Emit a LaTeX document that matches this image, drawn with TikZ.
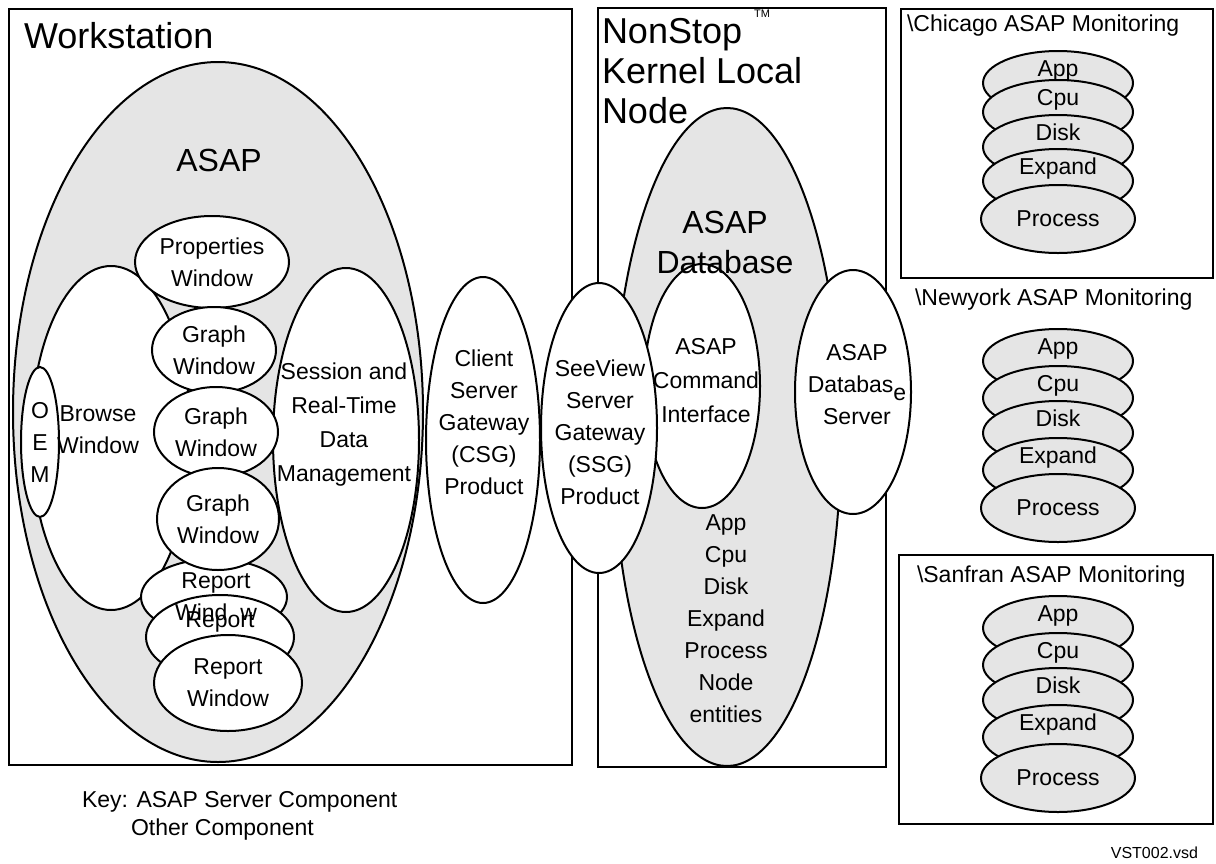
\documentclass[tikz,border=0pt]{standalone}
\usepackage{fontspec}
\setmainfont{Liberation Sans}
\usetikzlibrary{shapes.geometric, positioning}

\newcommand{\compfont}{\fontsize{23}{32}\selectfont}
\newcommand{\headfont}{\fontsize{36}{40}\selectfont}
\newcommand{\asapfont}{\fontsize{32}{40}\selectfont}

\begin{document}
\begin{tikzpicture}[x=1pt, y=1pt, on grid, line width=2pt]
\tikzstyle{boxframe} = [rectangle, draw, line width=2.2pt, inner sep=0pt, anchor=north west]
\tikzstyle{grayblob} = [ellipse, draw, fill=gray!20, inner sep=0pt]
\tikzstyle{comp} = [ellipse, draw, fill=white, inner sep=0pt, align=center, font=\compfont]
\tikzstyle{lbl} = [align=center, font=\compfont, inner sep=0pt]
\tikzstyle{disk} = [ellipse, draw, fill=gray!20, inner sep=0pt, font=\compfont,
    minimum width=150pt, minimum height=64pt, text height=0pt, text depth=14pt]
\tikzstyle{lastdisk} = [ellipse, draw, fill=gray!20, inner sep=0pt, font=\compfont,
    minimum width=154pt, minimum height=68pt]

\useasboundingbox (0,0) rectangle (1216,-863);

% boxes
\node [boxframe, minimum width=563pt, minimum height=756pt] (ws) at (8,-8) {};
\node [boxframe, minimum width=288pt, minimum height=759pt] (nsk) at (597,-7) {};
\node [boxframe, minimum width=312pt, minimum height=269pt] (chibox) at (900,-8) {};
\node [boxframe, minimum width=314pt, minimum height=269pt] (sfobox) at (898,-554) {};

% workstation
\node [grayblob, minimum width=410pt, minimum height=700pt] (asap) at (218,-412) {};
\node [font=\asapfont] (asaplbl) at (219,-160) {ASAP};
\node [comp, minimum width=160pt, minimum height=344pt] (browse) at (111,-438) {};
\node [comp, minimum width=146pt, minimum height=344pt] (session) at (346,-440) {};
\node [comp, minimum width=154pt, minimum height=92pt] (props) at (212,-262) {Properties\\Window};
\node [comp, minimum width=146pt, minimum height=76pt] (rep1) at (214,-597) {};
\node [comp, minimum width=148pt, minimum height=84pt] (rep2) at (220,-637) {};
\node [lbl] (rep1lbl) at ([xshift=2pt]rep1) {Report\\Wind\hphantom{o}w};
\node [lbl] (rep2lbl) at ([yshift=15pt]rep2) {Report};
\node [comp, minimum width=148pt, minimum height=96pt] (rep3) at (228,-683) {Report\\Window};
\node [comp, minimum width=124pt, minimum height=86pt] (graph1) at (214,-350) {Graph\\Window};
\node [comp, minimum width=124pt, minimum height=90pt] (graph2) at (216,-432) {Graph\\Window};
\node [comp, minimum width=122pt, minimum height=102pt] (graph3) at (218,-519) {Graph\\Window};
\node [comp, minimum width=38pt, minimum height=150pt] (oem) at (40,-442) {O\\E\\M};
\node [lbl] (browselbl) at ([xshift=-13pt, yshift=8pt]browse) {Browse\\Window};
\node [lbl, font=\fontsize{23}{34}\selectfont] (sessionlbl) at ([xshift=-2pt, yshift=15pt]session)
    {Session and\\Real-Time\\Data\\Management};
\node [comp, minimum width=114pt, minimum height=326pt] (csg) at (483,-440) {};
\node [lbl] (csglbl) at ([xshift=1pt, yshift=18pt]csg) {Client\\Server\\Gateway\\(CSG)\\Product};

% local node
\node [grayblob, minimum width=228pt, minimum height=658pt] (asapdb) at (727,-437) {};
\node [comp, minimum width=116pt, minimum height=244pt] (cmdif) at (702,-386) {};
\node [comp, minimum width=116pt, minimum height=244pt] (dbsrv) at (853,-392) {};
\node [comp, minimum width=116pt, minimum height=290pt] (ssg) at (599,-428) {};
\node [lbl, font=\fontsize{23}{34}\selectfont] (cmdiflbl) at ([xshift=4pt, yshift=5pt]cmdif)
    {ASAP\\Command\\Interface};
\node [lbl] (dbsrvlbl) at ([xshift=4pt, yshift=7pt]dbsrv) {ASAP\\Databas\raisebox{-8pt}{e}\\Server};
\node [lbl] (ssglbl) at ([xshift=1pt, yshift=-4pt]ssg) {SeeView\\Server\\Gateway\\(SSG)\\Product};
\node [lbl] (entities) at (726,-619) {App\\Cpu\\Disk\\Expand\\Process\\Node\\entities};
\node [lbl, font=\asapfont] (asapdblbl) at (725,-242) {ASAP\\Database};

% monitoring stacks
\node [disk] (chiapp) at (1058,-83) {App};
\node [disk, below=29pt of chiapp] (chicpu) {Cpu};
\node [disk, below=35pt of chicpu] (chidisk) {Disk};
\node [disk, below=34pt of chidisk] (chiexp) {Expand};
\node [lastdisk, below=38pt of chiexp] (chiproc) {Process};

\node [disk] (nyapp) at (1058,-361) {App};
\node [disk, below=37pt of nyapp] (nycpu) {Cpu};
\node [disk, below=35pt of nycpu] (nydisk) {Disk};
\node [disk, below=37pt of nydisk] (nyexp) {Expand};
\node [lastdisk, below=38pt of nyexp] (nyproc) {Process};

\node [disk] (sfapp) at (1058,-628) {App};
\node [disk, below=37pt of sfapp] (sfcpu) {Cpu};
\node [disk, below=35pt of sfcpu] (sfdisk) {Disk};
\node [disk, below=37pt of sfdisk] (sfexp) {Expand};
\node [lastdisk, below=41pt of sfexp] (sfproc) {Process};

% titles and key
\node [font=\headfont, anchor=base west, inner sep=0pt] (wstitle) at (23,-48) {Workstation};
\node [font=\headfont, anchor=north west, align=left, inner sep=0pt] (nsktitle) at (601,-17)
    {NonStop\hspace{12pt}\smash{\raisebox{26pt}{\fontsize{11}{11}\selectfont TM}}\\Kernel Local\\Node};
\node [lbl, anchor=west] (chititle) at (906,-26) {\textbackslash Chicago ASAP Monitoring};
\node [lbl, anchor=west] (nytitle) at (914,-300) {\textbackslash Newyork ASAP Monitoring};
\node [lbl, anchor=west] (sftitle) at (916,-577) {\textbackslash Sanfran ASAP Monitoring};
\node [lbl, anchor=west] (keyasap) at (81,-802) {Key: ASAP Server Component};
\node [lbl, anchor=west] (keyother) at (130,-830) {Other Component};
\node [font=\fontsize{16}{18}\selectfont, anchor=east, inner sep=0pt] (docname) at (1199,-853) {VST002.vsd};
\end{tikzpicture}
\end{document}
